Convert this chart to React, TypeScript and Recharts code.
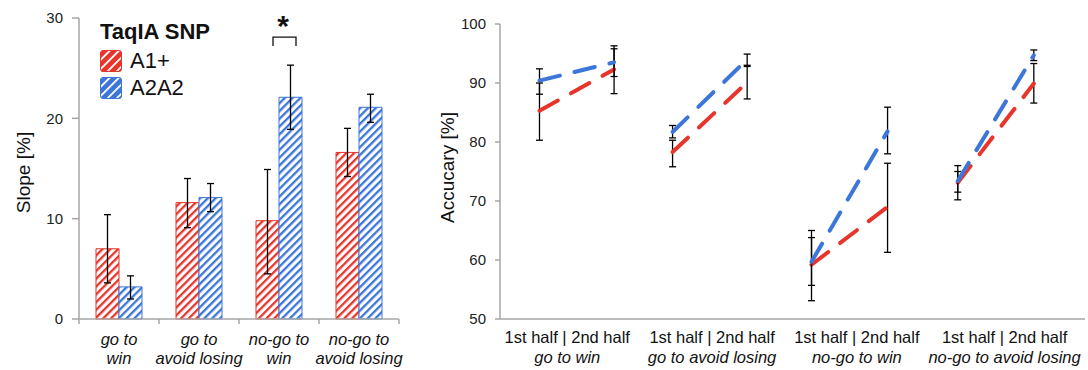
import React from 'react';
import { BarChart, Bar, LineChart, Line, XAxis, YAxis, ErrorBar, Legend, ReferenceDot } from 'recharts';

const RED = '#e8352b';
const BLUE = '#3b76d8';
const AXIS = '#a6a6a6';
const FONT = '"Liberation Sans", Arial, sans-serif';

// slope panel (left)
const conditions = ['go to\nwin', 'go to\navoid losing', 'no-go to\nwin', 'no-go to\navoid losing'];
const slopeA1 = [7.0, 11.6, 9.8, 16.6];
const slopeA1Low = [3.6, 9.1, 4.5, 14.2];
const slopeA1High = [10.4, 14.0, 14.9, 19.0];
const slopeA2 = [3.2, 12.1, 22.1, 21.1];
const slopeA2Low = [2.0, 10.7, 18.9, 19.6];
const slopeA2High = [4.3, 13.5, 25.3, 22.4];
const slopeTicks = [0, 10, 20, 30];
const sigCondition = 'no-go to\nwin';
const sigLevel = 28.1;
const legendTitle = 'TaqIA SNP';
const seriesNames = ['A1+', 'A2A2'];

// accuracy panel (right)
const groups = ['go to win', 'go to avoid losing', 'no-go to win', 'no-go to avoid losing'];
const halfLabel = '1st half | 2nd half';
const firstHalfPos = [0.27, 1.18, 2.13, 3.13];
const secondHalfPos = [0.78, 1.69, 2.65, 3.65];
const groupLabelPos = [0.46, 1.45, 2.44, 3.45];
const accTicks = [50, 60, 70, 80, 90, 100];

const accA1First = [85.3, 78.3, 59.2, 73.1];
const accA1FirstLow = [80.3, 75.8, 53.1, 70.2];
const accA1FirstHigh = [90.0, 80.3, 65.0, 76.0];
const accA1Second = [92.3, 90.1, 69.0, 89.9];
const accA1SecondLow = [88.2, 87.3, 61.3, 86.6];
const accA1SecondHigh = [95.8, 92.8, 76.4, 93.3];

const accA2First = [90.4, 81.7, 59.7, 73.4];
const accA2FirstLow = [88.1, 80.7, 55.7, 71.5];
const accA2FirstHigh = [92.4, 82.8, 63.8, 75.0];
const accA2Second = [93.5, 94.0, 81.8, 94.7];
const accA2SecondLow = [91.1, 93.0, 78.0, 93.8];
const accA2SecondHigh = [96.3, 94.9, 85.9, 95.6];

const err = (v: number, lo: number, hi: number) => [v - lo, hi - v];

const barData = conditions.map((name, i) => ({
  name,
  a1: slopeA1[i],
  a1Err: err(slopeA1[i], slopeA1Low[i], slopeA1High[i]),
  a2: slopeA2[i],
  a2Err: err(slopeA2[i], slopeA2Low[i], slopeA2High[i]),
}));

const lineData = groups.flatMap((_, g) => [
  {
    x: firstHalfPos[g],
    [`a1_${g}`]: accA1First[g],
    [`a1e_${g}`]: err(accA1First[g], accA1FirstLow[g], accA1FirstHigh[g]),
    [`a2_${g}`]: accA2First[g],
    [`a2e_${g}`]: err(accA2First[g], accA2FirstLow[g], accA2FirstHigh[g]),
  },
  {
    x: secondHalfPos[g],
    [`a1_${g}`]: accA1Second[g],
    [`a1e_${g}`]: err(accA1Second[g], accA1SecondLow[g], accA1SecondHigh[g]),
    [`a2_${g}`]: accA2Second[g],
    [`a2e_${g}`]: err(accA2Second[g], accA2SecondLow[g], accA2SecondHigh[g]),
  },
]);

// rotated y-axis title
const AxisTitle = ({ viewBox, value, dx, dy }: any) => {
  const cx = viewBox.x + dx;
  const cy = viewBox.y + viewBox.height / 2 + dy;
  return (
    <text
      x={cx}
      y={cy}
      transform={`rotate(-90 ${cx} ${cy})`}
      textAnchor="middle"
      dominantBaseline="central"
      fontSize={19}
      fontFamily={FONT}
      fill="#111"
    >
      {value}
    </text>
  );
};

// italic two-line category labels with ticks at the band edges
const ConditionTick = ({ x, y, payload, index }: any) => {
  const half = payload.offset || 40;
  const lines = String(payload.value).split('\n');
  return (
    <g>
      <line x1={x - half} y1={y} x2={x - half} y2={y + 5} stroke={AXIS} strokeWidth={1.5} />
      {index === conditions.length - 1 && (
        <line x1={x + half} y1={y} x2={x + half} y2={y + 5} stroke={AXIS} strokeWidth={1.5} />
      )}
      {lines.map((l, i) => (
        <text key={i} x={x} y={y + 26 + i * 19} textAnchor="middle" fontSize={16.5} fontStyle="italic" fontFamily={FONT} fill="#111">
          {l}
        </text>
      ))}
    </g>
  );
};

const GroupTick = ({ x, y, payload }: any) => {
  const g = groupLabelPos.indexOf(payload.value);
  return (
    <g>
      <text x={x} y={y + 24} textAnchor="middle" fontSize={16.5} fontFamily={FONT} fill="#111">
        {halfLabel}
      </text>
      <text x={x} y={y + 44} textAnchor="middle" fontSize={16.5} fontStyle="italic" fontFamily={FONT} fill="#111">
        {groups[g]}
      </text>
    </g>
  );
};

const Swatch = ({ color, id }: { color: string; id: string }) => (
  <svg width={22} height={22} style={{ display: 'block' }}>
    <defs>
      <pattern id={id} patternUnits="userSpaceOnUse" width={6.5} height={6.5} patternTransform="rotate(45)">
        <rect width={6.5} height={6.5} fill={color} />
        <rect width={1.8} height={6.5} fill="#fff" />
      </pattern>
    </defs>
    <rect x={0.5} y={0.5} width={21} height={21} rx={2.5} fill={`url(#${id})`} stroke={color} />
  </svg>
);

const SlopeLegend = () => (
  <div style={{ fontFamily: FONT, color: '#111', lineHeight: '26px' }}>
    <div style={{ fontWeight: 'bold', fontSize: 22, marginBottom: 2 }}>{legendTitle}</div>
    {seriesNames.map((n, i) => (
      <div key={n} style={{ display: 'flex', alignItems: 'center', gap: 8, fontSize: 22, height: 27 }}>
        <Swatch color={i === 0 ? RED : BLUE} id={`sw${i}`} />
        <span>{n}</span>
      </div>
    ))}
  </div>
);

const SigBracket = ({ cx, cy }: any) => (
  <g>
    <path d={`M${cx - 6},${cy + 9} V${cy} H${cx + 17} V${cy + 9}`} fill="none" stroke="#111" strokeWidth={1.3} />
    <text x={cx + 4} y={cy - 1} textAnchor="middle" fontSize={30} fontWeight="bold" fontFamily={FONT} fill="#111">
      *
    </text>
  </g>
);

const tickStyle = { fontSize: 15, fontFamily: FONT, fill: '#222' };

export default function App() {
  return (
    <div style={{ position: 'absolute', left: 0, top: 0, width: 1088, height: 370, display: 'flex', background: '#fff' }}>
      <BarChart
        width={410}
        height={370}
        data={barData}
        margin={{ top: 18, right: 11, bottom: 0, left: 0 }}
        barSize={23}
        barGap={0}
      >
        <defs>
          <pattern id="hatchRed" patternUnits="userSpaceOnUse" width={5.5} height={5.5} patternTransform="rotate(45)">
            <rect width={5.5} height={5.5} fill="#fff" />
            <rect width={2.3} height={5.5} fill={RED} />
          </pattern>
          <pattern id="hatchBlue" patternUnits="userSpaceOnUse" width={5.5} height={5.5} patternTransform="rotate(45)">
            <rect width={5.5} height={5.5} fill="#fff" />
            <rect width={2.3} height={5.5} fill={BLUE} />
          </pattern>
        </defs>
        <XAxis
          dataKey="name"
          height={51}
          axisLine={{ stroke: AXIS, strokeWidth: 1.5 }}
          tickLine={false}
          tickSize={0}
          tickMargin={0}
          interval={0}
          tick={<ConditionTick />}
        />
        <YAxis
          width={79}
          domain={[0, 30]}
          ticks={slopeTicks}
          axisLine={{ stroke: AXIS, strokeWidth: 1.5 }}
          tickLine={{ stroke: AXIS, strokeWidth: 1.5 }}
          tickSize={7}
          tickMargin={9}
          tick={tickStyle}
          label={{ content: (p: any) => <AxisTitle {...p} value="Slope [%]" dx={23.5} dy={4} /> }}
        />
        <Legend
          layout="horizontal"
          verticalAlign="middle"
          align="center"
          wrapperStyle={{ top: 19, left: 100, width: 160 }}
          content={<SlopeLegend />}
        />
        <Bar dataKey="a1" name={seriesNames[0]} fill="url(#hatchRed)" stroke={RED} strokeWidth={1} isAnimationActive={false}>
          <ErrorBar dataKey="a1Err" width={3.5} stroke="#000" strokeWidth={1.3} direction="y" />
        </Bar>
        <Bar dataKey="a2" name={seriesNames[1]} fill="url(#hatchBlue)" stroke={BLUE} strokeWidth={1} isAnimationActive={false}>
          <ErrorBar dataKey="a2Err" width={3.5} stroke="#000" strokeWidth={1.3} direction="y" />
        </Bar>
        <ReferenceDot x={sigCondition} y={sigLevel} ifOverflow="visible" shape={<SigBracket />} />
      </BarChart>

      <LineChart width={678} height={370} data={lineData} margin={{ top: 24, right: 3, bottom: 0, left: 0 }}>
        <XAxis
          dataKey="x"
          type="number"
          domain={[0, 4]}
          ticks={groupLabelPos}
          height={51}
          axisLine={{ stroke: AXIS, strokeWidth: 1.5 }}
          tickLine={false}
          tickSize={0}
          tickMargin={0}
          interval={0}
          tick={<GroupTick />}
        />
        <YAxis
          width={90}
          domain={[50, 100]}
          ticks={accTicks}
          axisLine={{ stroke: AXIS, strokeWidth: 1.5 }}
          tickLine={{ stroke: AXIS, strokeWidth: 1.5 }}
          tickSize={5}
          tickMargin={9}
          tick={tickStyle}
          label={{ content: (p: any) => <AxisTitle {...p} value="Accucary [%]" dx={37.5} dy={-4} /> }}
        />
        {groups.flatMap((_, g) => [
          <Line
            key={`a1_${g}`}
            dataKey={`a1_${g}`}
            stroke={RED}
            strokeWidth={4}
            strokeDasharray="21 15"
            strokeLinecap="round"
            dot={false}
            isAnimationActive={false}
          >
            <ErrorBar dataKey={`a1e_${g}`} width={3.5} stroke="#000" strokeWidth={1.3} direction="y" />
          </Line>,
          <Line
            key={`a2_${g}`}
            dataKey={`a2_${g}`}
            stroke={BLUE}
            strokeWidth={4}
            strokeDasharray="21 15"
            strokeLinecap="round"
            dot={false}
            isAnimationActive={false}
          >
            <ErrorBar dataKey={`a2e_${g}`} width={3.5} stroke="#000" strokeWidth={1.3} direction="y" />
          </Line>,
        ])}
      </LineChart>
    </div>
  );
}
